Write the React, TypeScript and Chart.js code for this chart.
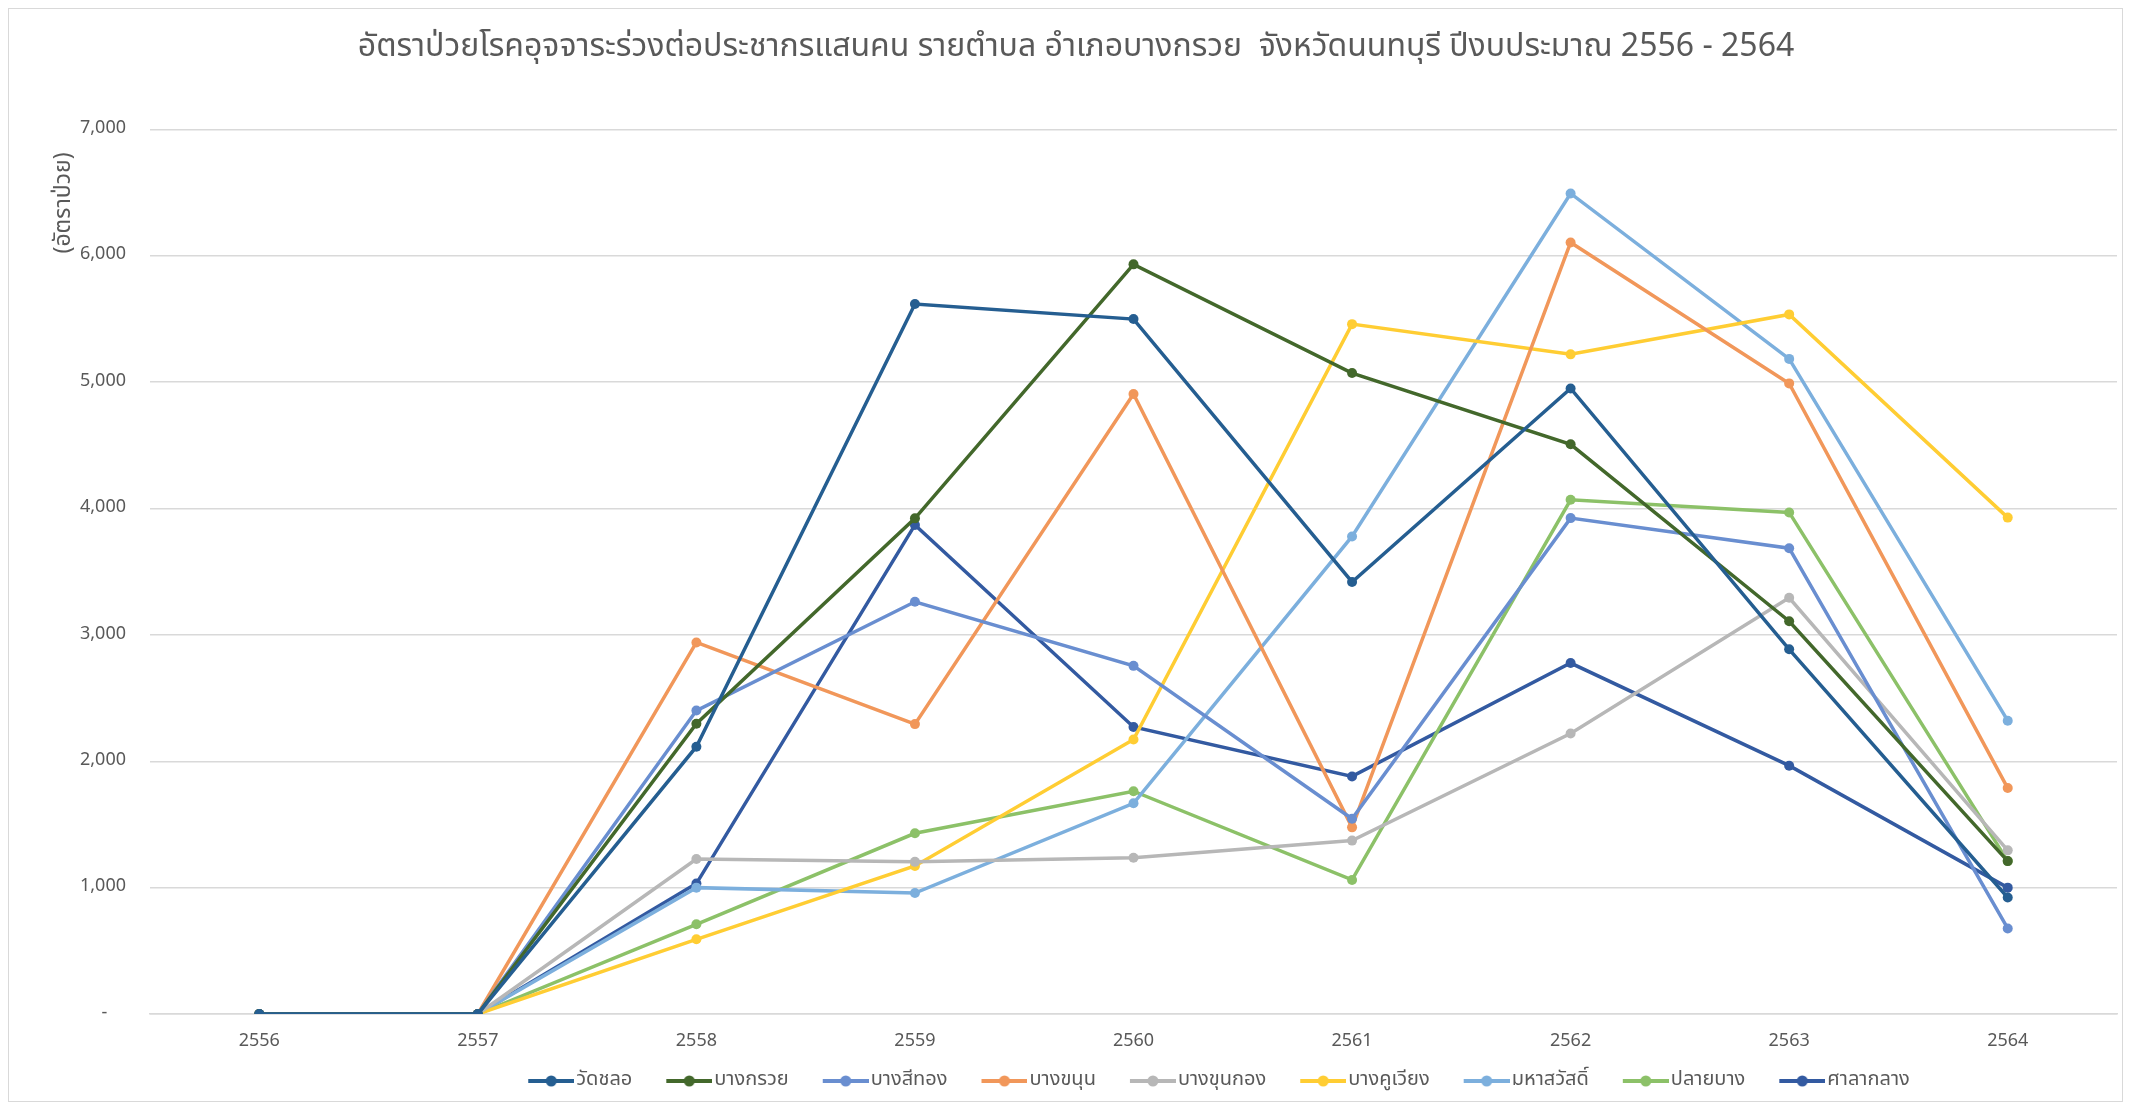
import React, { useEffect, useRef } from "react";
import { Chart, registerables } from "chart.js";

Chart.register(...registerables);

const years = ["2556", "2557", "2558", "2559", "2560", "2561", "2562", "2563", "2564"];

const watChalo = [0, 0, 2115, 5618, 5499, 3419, 4950, 2886, 922];
const bangKruai = [0, 0, 2297, 3922, 5932, 5072, 4508, 3108, 1210];
const bangSithong = [0, 0, 2401, 3262, 2755, 1545, 3924, 3686, 677];
const bangKhanun = [0, 0, 2940, 2294, 4906, 1477, 6105, 4990, 1788];
const bangKhunKong = [0, 0, 1226, 1204, 1237, 1372, 2220, 3294, 1295];
const bangKhuWiang = [0, 0, 591, 1172, 2172, 5459, 5220, 5536, 3928];
const mahaSawat = [0, 0, 1000, 957, 1667, 3779, 6493, 5184, 2321];
const plaiBang = [0, 0, 710, 1430, 1763, 1061, 4069, 3969, 1210];
const salaKlang = [0, 0, 1032, 3870, 2271, 1880, 2777, 1965, 1000];

const seriesNames = ["วัดชลอ", "บางกรวย", "บางสีทอง", "บางขนุน", "บางขุนกอง", "บางคูเวียง", "มหาสวัสดิ์", "ปลายบาง", "ศาลากลาง"];
const seriesData = [watChalo, bangKruai, bangSithong, bangKhanun, bangKhunKong, bangKhuWiang, mahaSawat, plaiBang, salaKlang];
const seriesColors = ["#255E91", "#43682B", "#698ED0", "#F1975A", "#B7B7B7", "#FFCD33", "#7CAFDD", "#8CC168", "#335AA1"];

const yTicks = [0, 1000, 2000, 3000, 4000, 5000, 6000, 7000];

const titleText = "อัตราป่วยโรคอุจจาระร่วงต่อประชากรแสนคน รายตำบล อำเภอบางกรวย  จังหวัดนนทบุรี ปีงบประมาณ 2556 - 2564";
const yTitle = "(อัตราป่วย)";

const FONT = "Tahoma, 'Noto Sans Thai', 'Noto Sans', 'DejaVu Sans', sans-serif";
const TEXT = "#595959";

const LEG_FONT = 20;
const LEG_BOX = 62;
const LEG_PAD = 10;
const LEG_SHIFT = 144;
const TITLE_SHIFT = 13;

function makeMarker(color: string): HTMLCanvasElement {
  // image is drawn centred on the legend box; marker occupies its right part
  const c = document.createElement("canvas");
  c.width = 78;
  c.height = 12;
  const g = c.getContext("2d")!;
  g.strokeStyle = color;
  g.lineWidth = 4;
  g.beginPath();
  g.moveTo(32, 6);
  g.lineTo(78, 6);
  g.stroke();
  g.fillStyle = color;
  g.beginPath();
  g.arc(55, 6, 5.5, 0, Math.PI * 2);
  g.fill();
  return c;
}

const boxShift = {
  id: "boxShift",
  afterLayout(chart: any) {
    const lg = chart.legend;
    if (lg) {
      lg.left += LEG_SHIFT;
      lg.right += LEG_SHIFT;
    }
    const tb = chart.titleBlock;
    if (tb) {
      tb.left += TITLE_SHIFT;
      tb.right += TITLE_SHIFT;
    }
  },
};

export default function App() {
  const ref = useRef<HTMLCanvasElement | null>(null);

  useEffect(() => {
    if (!ref.current) return;
    const markers = seriesColors.map(makeMarker);
    const chart = new Chart(ref.current, {
      type: "line",
      data: {
        labels: years,
        datasets: seriesNames.map((name, i) => ({
          label: name,
          data: seriesData[i],
          borderColor: seriesColors[i],
          backgroundColor: seriesColors[i],
          borderWidth: 3.5,
          pointRadius: 5,
          pointHoverRadius: 5,
          pointBorderWidth: 0,
          tension: 0,
          fill: false,
        })),
      },
      plugins: [boxShift],
      options: {
        animation: false,
        responsive: false,
        maintainAspectRatio: false,
        layout: { padding: { left: 0, right: 5, top: 0, bottom: 0 } },
        plugins: {
          title: {
            display: true,
            text: titleText,
            color: TEXT,
            font: { family: FONT, size: 32, weight: "normal" },
            padding: { top: 21, bottom: 61 },
          },
          legend: {
            position: "bottom",
            labels: {
              color: TEXT,
              font: { family: FONT, size: LEG_FONT },
              usePointStyle: true,
              pointStyleWidth: LEG_BOX,
              boxHeight: 12,
              padding: LEG_PAD,
              generateLabels: (ch: any) =>
                ch.data.datasets.map((ds: any, i: number) => ({
                  text: ds.label,
                  fillStyle: ds.borderColor,
                  strokeStyle: ds.borderColor,
                  lineWidth: 0,
                  pointStyle: markers[i],
                  hidden: false,
                  datasetIndex: i,
                  fontColor: TEXT,
                })),
            },
          },
          tooltip: { enabled: false },
        },
        scales: {
          x: {
            offset: true,
            grid: { display: false, drawTicks: false },
            border: { display: true, color: "#D9D9D9", width: 1.5 },
            ticks: { color: TEXT, font: { family: FONT, size: 18 }, padding: 18 },
            afterFit: (s: any) => {
              s.height = 47;
            },
          },
          y: {
            min: 0,
            max: 7000,
            afterBuildTicks: (s: any) => {
              s.ticks = yTicks.map((v) => ({ value: v }));
            },
            grid: { color: "#D9D9D9", lineWidth: 1.5, drawTicks: false },
            border: { display: false },
            ticks: {
              color: TEXT,
              font: { family: FONT, size: 18 },
              padding: 24,
              callback: (v: any) => (Number(v) === 0 ? "-    " : Number(v).toLocaleString("en-US")),
            },
            title: {
              display: true,
              text: yTitle + "\u2003",
              color: TEXT,
              align: "end",
              font: { family: FONT, size: 23 },
              padding: { top: 43, bottom: 0 },
            },
            afterFit: (s: any) => {
              s.width = 141;
            },
          },
        },
      },
    });
    return () => chart.destroy();
  }, []);

  return (
    <div
      style={{
        width: 2115,
        height: 1094,
        boxSizing: "border-box",
        border: "1px solid #D9D9D9",
        background: "#fff",
      }}
    >
      <canvas ref={ref} width={2113} height={1092} style={{ display: "block" }} />
    </div>
  );
}
